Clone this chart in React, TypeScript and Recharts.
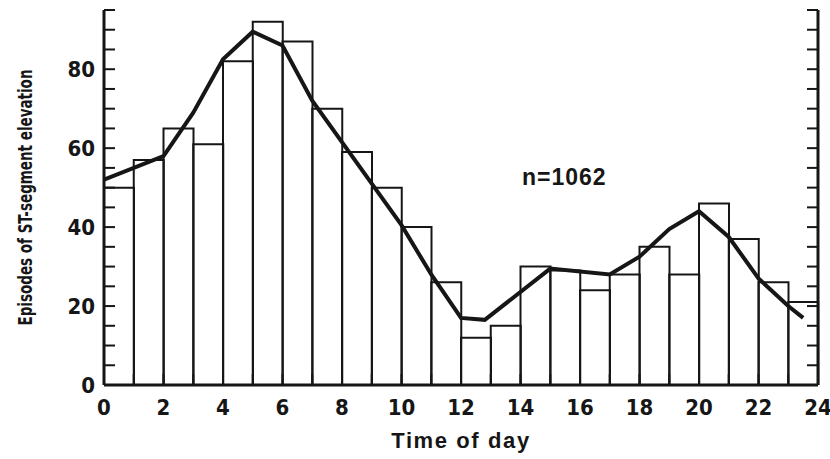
import { Bar, ComposedChart, Line, XAxis, YAxis } from "recharts";

// histogram: one bar per hour of the day
const binStarts = [0, 1, 2, 3, 4, 5, 6, 7, 8, 9, 10, 11, 12, 13, 14, 15, 16, 17, 18, 19, 20, 21, 22, 23];
const binCounts = [50, 57, 65, 61, 82, 92, 87, 70, 59, 50, 40, 26, 12, 15, 30, 29, 24, 28, 35, 28, 46, 37, 26, 21];

// smoothed curve drawn over the bars
const lineHours = [0, 2, 3, 4, 5, 6, 7, 10, 11, 12, 12.8, 15, 17, 18, 19, 20, 21, 22, 23, 23.5];
const lineValues = [52, 58, 69, 82.5, 89.5, 86, 72, 40.5, 28, 17, 16.5, 29.5, 28, 32.5, 39.5, 44, 37.5, 27, 20, 17];

const hourTicks = [0, 1, 2, 3, 4, 5, 6, 7, 8, 9, 10, 11, 12, 13, 14, 15, 16, 17, 18, 19, 20, 21, 22, 23, 24];
const countTicks = [0, 5, 10, 15, 20, 25, 30, 35, 40, 45, 50, 55, 60, 65, 70, 75, 80, 85, 90, 95];

const bins = binStarts.map((b, i) => ({ bin: b, count: binCounts[i] }));
const curve = lineHours.map((h, i) => ({ hour: h, value: lineValues[i] }));

const ink = "#161616";
const tickFont = {
  fill: ink,
  fontSize: 22,
  fontWeight: 700,
  fontFamily: "'DejaVu Sans Condensed', 'Liberation Sans Narrow', sans-serif",
  fontStretch: "condensed" as const,
};
const TICK_LEN = 11;
const LEFT_GAP = 9;

// ticks point into the plot, so draw the tick marks ourselves next to the labels
const LeftTick = ({ x, y, payload }: any) => {
  const axisX = x + LEFT_GAP;
  return (
    <g>
      <line x1={axisX} x2={axisX + TICK_LEN} y1={y} y2={y} stroke={ink} strokeWidth={2} />
      {payload.value % 20 === 0 && (
        <text x={x} y={y} dy={8} textAnchor="end" {...tickFont}>
          {payload.value}
        </text>
      )}
    </g>
  );
};

const RightTick = ({ x, y }: any) => (
  <line x1={x} x2={x - TICK_LEN} y1={y} y2={y} stroke={ink} strokeWidth={2} />
);

const BottomTick = ({ x, y, payload }: any) => (
  <g>
    <line x1={x} x2={x} y1={y} y2={y - TICK_LEN} stroke={ink} strokeWidth={2} />
    {payload.value % 2 === 0 && (
      <text x={x} y={y} dy={30} textAnchor="middle" {...tickFont}>
        {payload.value}
      </text>
    )}
  </g>
);

export default function App() {
  return (
    <div style={{ position: "absolute", left: 0, top: 0, width: 830, height: 459, background: "#fff" }}>
      <ComposedChart
        width={830}
        height={459}
        data={bins}
        barCategoryGap={0}
        barGap={0}
        margin={{ top: 10, right: 0, bottom: 0, left: 0 }}
      >
        <XAxis
          xAxisId="num"
          dataKey="hour"
          type="number"
          domain={[0, 24]}
          ticks={hourTicks}
          interval={0}
          allowDataOverflow
          height={74}
          axisLine={{ stroke: ink, strokeWidth: 3 }}
          tickLine={false}
          tickSize={0}
          tickMargin={0}
          tick={<BottomTick />}
          label={{
            value: "Time of day",
            position: "insideBottom",
            offset: 11,
            fill: ink,
            fontSize: 22,
            fontWeight: 700,
            fontFamily: "'Liberation Sans', Arial, sans-serif",
            letterSpacing: 1.6,
          }}
        />
        <XAxis xAxisId="cat" dataKey="bin" type="category" hide height={0} />
        <YAxis
          yAxisId="left"
          type="number"
          domain={[0, 95]}
          ticks={countTicks}
          interval={0}
          allowDataOverflow
          width={104}
          axisLine={{ stroke: ink, strokeWidth: 3 }}
          tickLine={false}
          tickSize={0}
          tickMargin={LEFT_GAP}
          tick={<LeftTick />}
          label={{
            value: "Episodes of ST-segment elevation",
            angle: -90,
            position: "insideLeft",
            offset: 25,
            fill: ink,
            fontSize: 20,
            fontWeight: 700,
            fontFamily: "'Liberation Sans Narrow', 'DejaVu Sans Condensed', sans-serif",
            textLength: 256,
            lengthAdjust: "spacingAndGlyphs",
            style: { textAnchor: "middle" },
          }}
        />
        <YAxis
          yAxisId="right"
          orientation="right"
          type="number"
          domain={[0, 95]}
          ticks={countTicks}
          interval={0}
          allowDataOverflow
          width={12}
          axisLine={{ stroke: ink, strokeWidth: 3 }}
          tickLine={false}
          tickSize={0}
          tickMargin={0}
          tick={<RightTick />}
        />
        <Bar
          xAxisId="cat"
          yAxisId="left"
          dataKey="count"
          fill="none"
          stroke={ink}
          strokeWidth={2}
          isAnimationActive={false}
        />
        <Line
          xAxisId="num"
          yAxisId="left"
          data={curve}
          dataKey="value"
          type="linear"
          stroke={ink}
          strokeWidth={4}
          dot={false}
          activeDot={false}
          isAnimationActive={false}
        />
      </ComposedChart>
      <div
        style={{
          position: "absolute",
          left: 522,
          top: 164,
          fontFamily: "'Liberation Sans', Arial, sans-serif",
          fontWeight: 700,
          fontSize: 23,
          letterSpacing: 1,
          color: ink,
        }}
      >
        n=1062
      </div>
    </div>
  );
}
